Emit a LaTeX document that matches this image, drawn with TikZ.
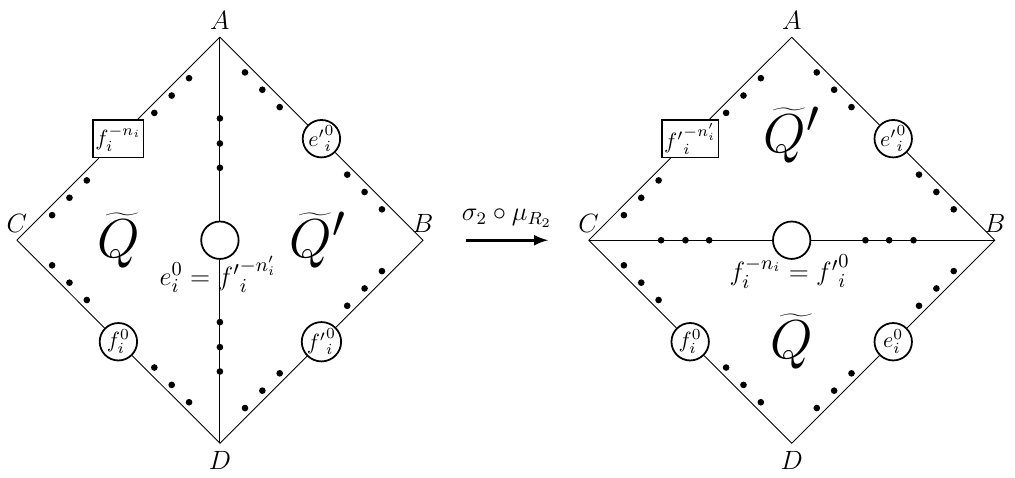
\documentclass[tikz,border=0pt]{standalone}
\usetikzlibrary{calc,arrows}
\tikzset{
  vert/.style={draw, thick, circle, minimum size=17pt, inner sep=0pt, font=\normalsize},
  frozen/.style={draw, thick, rectangle, minimum height=17pt, inner sep=1pt, font=\normalsize},
  corner/.style={font=\large},
  midlab/.style={font=\fontsize{13}{15}\selectfont},
}
\begin{document}
\begin{tikzpicture}[scale=1.08, >=latex]
  \useasboundingbox (-3.25,-3.5) rectangle (11.75,3.55);

  % left quiver
  \coordinate[label={[corner]above:$A$}] (A1) at (0,3);
  \coordinate[label={[corner]above:$B$}] (B1) at (3,0);
  \coordinate[label={[corner]above:$C$}] (C1) at (-3,0);
  \coordinate[label={[corner]below:$D$}] (D1) at (0,-3);
  \coordinate (iA1) at (0,2.85);
  \coordinate (iB1) at (2.85,0);
  \coordinate (iC1) at (-2.85,0);
  \coordinate (iD1) at (0,-2.85);

  \node[vert] (O1) at (0,0) {};
  \node[frozen] (fn1) at ($(C1)!0.5!(A1)$) {$f_i^{-n_i}$};
  \node[vert] (ep1) at ($(A1)!0.5!(B1)$) {${e'}^0_i$};
  \node[vert] (f1) at ($(C1)!0.5!(D1)$) {$f^0_i$};
  \node[vert] (fp1) at ($(D1)!0.5!(B1)$) {${f'}^0_i$};

  \draw (C1) -- (fn1) -- (A1) -- (ep1) -- (B1) -- (fp1) -- (D1) -- (f1) -- (C1);
  \draw (A1) -- (O1) -- (D1);

  \foreach \t in {0.13,0.22,0.31,0.66,0.75,0.84} {
    \fill ($(iC1)!\t!(iA1)$) circle (1.4pt);
    \fill ($(iA1)!\t!(iB1)$) circle (1.4pt);
    \fill ($(iC1)!\t!(iD1)$) circle (1.4pt);
    \fill ($(iD1)!\t!(iB1)$) circle (1.4pt);
  }
  \foreach \y in {1.07,1.43,1.8,-1.21,-1.58,-1.94}
    \fill (0,\y) circle (1.4pt);

  \node (Q1) at (-1.5,0) {\Huge $\widetilde{Q}$};
  \node (Qp1) at (1.45,0) {\Huge $\widetilde{Q}'$};
  \node[midlab] (lab1) at (-0.03,-0.5) {$e_i^0 = {f'}^{-n'_i}_i$};

  % mutation arrow
  \coordinate (arrs) at (3.63,0);
  \coordinate (arre) at (4.85,0);
  \draw[->, very thick] (arrs) -- (arre) node[midway, above=2pt] {\large $\sigma_2 \circ \mu_{R_2}$};

  % right quiver
  \begin{scope}[shift={(8.45,0)}]
    \coordinate[label={[corner]above:$A$}] (A2) at (0,3);
    \coordinate[label={[corner]above:$B$}] (B2) at (3,0);
    \coordinate[label={[corner]above:$C$}] (C2) at (-3,0);
    \coordinate[label={[corner]below:$D$}] (D2) at (0,-3);
    \coordinate (iA2) at (0,2.85);
    \coordinate (iB2) at (2.85,0);
    \coordinate (iC2) at (-2.85,0);
    \coordinate (iD2) at (0,-2.85);

    \node[vert] (O2) at (0,0) {};
    \node[frozen] (fn2) at ($(C2)!0.5!(A2)$) {${f'}^{-n'_i}_i$};
    \node[vert] (ep2) at ($(A2)!0.5!(B2)$) {${e'}^0_i$};
    \node[vert] (f2) at ($(C2)!0.5!(D2)$) {$f^0_i$};
    \node[vert] (e2) at ($(D2)!0.5!(B2)$) {$e^0_i$};

    \draw (C2) -- (fn2) -- (A2) -- (ep2) -- (B2) -- (e2) -- (D2) -- (f2) -- (C2);
    \draw (C2) -- (O2) -- (B2);

    \foreach \t in {0.13,0.22,0.31,0.66,0.75,0.84} {
      \fill ($(iC2)!\t!(iA2)$) circle (1.4pt);
      \fill ($(iA2)!\t!(iB2)$) circle (1.4pt);
      \fill ($(iC2)!\t!(iD2)$) circle (1.4pt);
      \fill ($(iD2)!\t!(iB2)$) circle (1.4pt);
    }
    \foreach \x in {1.09,1.44,1.8,-1.22,-1.57,-1.93}
      \fill (\x,0) circle (1.4pt);

    \node (Qp2) at (0,1.55) {\Huge $\widetilde{Q}'$};
    \node (Q2) at (0,-1.5) {\Huge $\widetilde{Q}$};
    \node[midlab] (lab2) at (-0.03,-0.46) {$f_i^{-n_i} = {f'}^0_i$};
  \end{scope}
\end{tikzpicture}
\end{document}
